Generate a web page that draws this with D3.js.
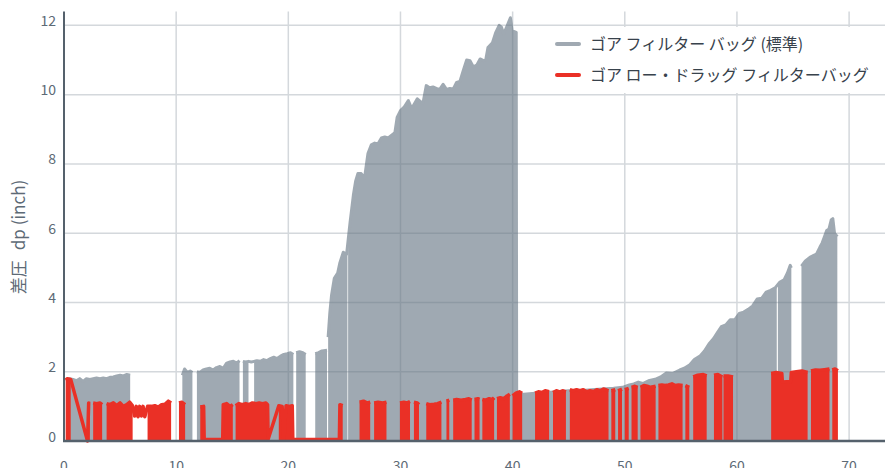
<!DOCTYPE html>
<html>
<head>
<meta charset="utf-8">
<script src="https://cdn.jsdelivr.net/npm/d3@7"></script>
<style>
  body { margin: 0; background: #fff; }
  svg { display: block; font-family: "Noto Sans CJK JP", "Noto Sans", sans-serif; }
</style>
</head>
<body>
<div id="chart"></div>
<script>
// tick values
const xTicks = [0, 10, 20, 30, 40, 50, 60, 70];
const yTicks = [0, 2, 4, 6, 8, 10, 12];
const seriesNames = ["ゴア フィルター バッグ (標準)", "ゴア ロー・ドラッグ フィルターバッグ"];
const yTitle = ["差圧", "dp (inch)"];

// standard bag: peak dp of each dense pulse run, null = no reading
const grayPts = [
  [0.25,1.72],[0.5,1.8],[0.8,1.78],[1.1,1.74],[1.4,1.8],[1.7,1.72],[2.0,1.8],[2.3,1.78],[2.6,1.8],[2.9,1.82],
  [3.2,1.8],[3.5,1.82],[3.8,1.8],[4.1,1.84],[4.4,1.85],[4.7,1.88],[5.0,1.9],[5.3,1.88],[5.6,1.92],[5.9,1.9],
  [6.0,null],
  [10.55,1.9],[10.75,2.08],[11.0,1.98],[11.25,2.02],[11.45,1.98],[11.6,null],[11.85,2.0],[12.1,1.98],[12.4,2.05],
  [12.7,2.08],[13.0,2.1],[13.3,2.05],[13.6,2.12],[13.9,2.15],[14.2,2.1],[14.5,2.25],[14.8,2.28],[15.1,2.3],
  [15.4,2.25],[15.65,2.32],[15.8,null],[15.95,2.3],[16.2,2.28],[16.45,2.3],[16.7,2.28],[16.95,2.3],[17.2,2.32],
  [17.5,2.3],[17.8,2.35],[18.1,2.32],[18.4,2.38],[18.7,2.42],[19.0,2.38],[19.3,2.45],[19.6,2.5],[19.9,2.52],
  [20.2,2.55],[20.45,2.5],[20.55,null],[20.7,2.55],[21.0,2.58],[21.3,2.55],[21.55,2.5],[21.9,null],
  [22.4,2.52],[22.7,2.55],[23.0,2.6],[23.45,2.62],[23.5,null],[23.55,3.0],[23.7,3.7],[23.85,4.2],[24.1,4.7],
  [24.4,4.85],[24.6,5.15],[24.9,5.45],[25.2,5.4],[25.5,6.3],[25.8,7.1],[26.0,7.5],[26.2,7.72],[26.5,7.72],
  [26.8,7.6],[27.1,8.3],[27.4,8.55],[27.7,8.6],[28.0,8.58],[28.3,8.75],[28.6,8.78],[28.9,8.75],[29.3,8.85],
  [29.5,8.9],[29.7,9.34],[30.0,9.54],[30.3,9.63],[30.7,9.83],[31.0,9.6],[31.5,9.88],[32.0,9.74],[32.3,10.26],
  [32.6,10.2],[32.9,10.22],[33.2,10.18],[33.5,10.15],[33.8,10.3],[34.1,10.15],[34.4,10.18],[34.7,10.16],
  [35.0,10.35],[35.3,10.38],[35.6,10.7],[35.9,11.0],[36.2,10.98],[36.5,10.8],[36.8,10.85],[37.1,11.03],
  [37.4,10.98],[37.6,11.0],[37.8,11.36],[38.2,11.5],[38.5,11.8],[38.8,12.0],[39.0,11.95],[39.2,11.75],
  [39.5,11.98],[39.8,12.22],[39.95,11.85],[40.32,11.8],[40.36,1.35],[41.0,1.35],[42.0,1.38],[43.0,1.4],
  [44.0,1.42],[45.0,1.45],[46.0,1.45],[47.0,1.48],[48.0,1.5],[49.0,1.52],[49.8,1.55],[50.4,1.62],[50.8,1.65],
  [51.2,1.7],[51.6,1.66],[52.2,1.75],[52.7,1.78],[53.2,1.85],[53.7,1.96],[54.3,1.95],[54.9,2.05],[55.3,2.1],
  [55.8,2.2],[56.2,2.35],[56.7,2.45],[57.1,2.6],[57.5,2.8],[57.9,2.95],[58.2,3.1],[58.6,3.3],[59.0,3.35],
  [59.4,3.5],[59.8,3.5],[60.2,3.68],[60.6,3.72],[61.0,3.8],[61.4,3.9],[61.8,4.1],[62.2,4.12],[62.6,4.3],
  [63.0,4.35],[63.4,4.42],[63.8,4.58],[64.2,4.65],[64.5,4.85],[64.75,5.07],[64.85,5.0],[65.2,null],
  [65.75,5.05],[66.1,5.2],[66.5,5.3],[66.8,5.35],[67.1,5.4],[67.4,5.6],[67.6,5.72],[67.8,5.9],[68.0,6.08],
  [68.2,6.12],[68.4,6.38],[68.55,6.42],[68.7,6.0],[68.95,5.9]
];
// spans where the standard bag trace is a single line (no pulses underneath)
const grayLineOnly = [[16.45, 16.95], [25.27, 25.33], [63.55, 63.65]];

// low-drag bag
const redPts = [
  [0.15,1.76],[0.3,1.8],[0.6,1.78],[2.1,0],[2.2,1.1],[2.3,1.08],[2.35,null],[2.6,1.1],[2.9,1.08],[3.2,1.1],
  [3.4,1.05],[3.45,null],[3.8,1.08],[4.1,1.05],[4.4,1.1],[4.7,1.02],[5.0,1.1],[5.3,1.0],[5.6,1.05],[5.85,1.12],
  [6.1,1.02],[6.3,0.72],[6.45,1.0],[6.6,0.7],[6.75,1.0],[6.9,0.72],[7.05,1.0],[7.2,0.7],[7.45,1.0],[7.8,1.0],
  [8.1,1.02],[8.4,0.98],[8.7,1.05],[9.0,1.06],[9.3,1.15],[9.55,1.1],[9.9,null],
  [10.25,1.1],[10.5,1.12],[10.8,1.05],[11.5,null],
  [12.15,0.98],[12.45,1.0],[12.5,0.04],[14.15,0.04],[14.2,1.05],[14.5,1.08],[14.8,1.0],[15.05,1.05],[15.1,null],
  [15.3,1.02],[15.6,1.08],[15.9,1.05],[16.2,1.08],[16.5,1.05],[16.8,1.1],[17.1,1.08],[17.4,1.1],[17.7,1.08],
  [18.0,1.1],[18.15,1.05],[18.2,0.05],[19.15,1.02],[19.45,1.0],[19.6,0.02],[19.8,1.02],[20.1,1.0],[20.35,1.02],
  [20.4,0.04],[24.55,0.04],[24.6,1.05],[24.85,1.02],[25.5,null],
  [26.35,1.12],[26.7,1.15],[27.0,1.1],[27.3,1.12],[27.45,null],[27.65,1.1],[28.0,1.12],[28.4,1.1],[28.75,1.12],
  [29.3,null],
  [29.95,1.1],[30.3,1.12],[30.6,1.1],[30.85,1.14],[30.9,null],[31.2,1.12],[31.5,1.1],[31.65,1.05],[31.7,null],
  [32.3,1.08],[32.6,1.05],[33.0,1.06],[33.3,1.08],[33.65,1.12],[33.7,null],[34.1,1.15],[34.35,1.18],[34.4,null],
  [34.7,1.18],[35.0,1.2],[35.4,1.18],[35.8,1.2],[36.1,1.22],[36.35,1.18],[36.4,null],[36.6,1.2],[36.9,1.22],
  [37.05,1.2],[37.1,null],[37.3,1.2],[37.6,1.18],[37.9,1.22],[38.2,1.2],[38.35,1.25],[38.4,null],[38.6,1.22],
  [38.9,1.25],[39.2,1.22],[39.5,1.3],[39.75,1.35],[39.8,null],[40.0,1.3],[40.3,1.38],[40.6,1.42],[40.85,1.38],
  [40.9,null],[42.0,1.38],[42.3,1.42],[42.6,1.4],[42.9,1.45],[43.25,1.42],[43.3,null],[43.6,1.4],[43.9,1.45],
  [44.2,1.42],[44.5,1.45],[44.75,1.42],[44.8,null],[45.1,1.48],[45.4,1.45],[45.7,1.48],[46.0,1.45],[46.3,1.48],
  [46.6,1.42],[46.9,1.45],[47.2,1.43],[47.5,1.48],[47.8,1.45],[48.1,1.5],[48.3,1.48],[48.55,1.45],[48.6,null],
  [48.8,1.45],[49.15,1.48],[49.2,null],[49.4,1.45],[49.75,1.5],[49.8,null],[50.0,1.48],[50.35,1.52],[50.4,null],
  [50.6,1.55],[50.9,1.58],[51.15,1.55],[51.2,null],[51.4,1.55],[51.7,1.6],[52.0,1.58],[52.3,1.55],[52.75,1.58],
  [52.8,null],[53.0,1.6],[53.3,1.62],[53.6,1.6],[53.9,1.62],[54.2,1.65],[54.5,1.6],[54.8,1.62],[55.15,1.6],
  [55.2,null],[55.4,1.6],[55.75,1.55],[55.8,null],
  [56.1,1.85],[56.5,1.9],[57.0,1.92],[57.3,1.88],[57.6,null],[57.95,1.9],[58.3,1.92],[58.7,1.85],[58.75,null],
  [58.8,1.88],[59.2,1.88],[59.65,1.85],[61.0,null],
  [63.05,1.95],[63.5,1.98],[64.0,1.95],[64.05,1.7],[64.8,1.72],[64.85,1.98],[65.3,2.0],[65.8,2.02],[66.3,1.98],
  [66.45,null],[66.6,2.02],[67.0,2.05],[67.4,2.04],[67.8,2.06],[68.25,2.08],[68.35,null],[68.5,2.05],
  [68.75,2.08],[69.0,2.03]
];
// spans where the low-drag trace is a single connecting line
const redLineOnly = [[0.6, 2.15], [6.12, 7.45], [12.5, 14.15], [18.2, 19.15], [20.4, 24.55]];

const width = 885, height = 468;
const plotLeft = 64, plotRight = 885, plotTop = 11.5, plotBottom = 441;

const x = d3.scaleLinear().domain([0, 73.2]).range([plotLeft, plotRight]);
const y = d3.scaleLinear().domain([0, 12.4]).range([plotBottom, plotTop]);

const svg = d3.select("#chart").append("svg")
  .attr("width", width)
  .attr("height", height);
const defs = svg.append("defs");

// grid
svg.append("g").selectAll("line").data(yTicks.slice(1)).join("line")
  .attr("x1", plotLeft).attr("x2", plotRight)
  .attr("y1", d => y(d)).attr("y2", d => y(d))
  .attr("stroke", "#d4d8dc").attr("stroke-width", 1.5);
svg.append("g").selectAll("line").data(xTicks.slice(1)).join("line")
  .attr("x1", d => x(d)).attr("x2", d => x(d))
  .attr("y1", plotTop).attr("y2", plotBottom)
  .attr("stroke", "#d4d8dc").attr("stroke-width", 1.5);

function drawSeries(pts, lineOnly, id, color, sw, opacity) {
  // mask out the line-only spans from the filled part
  const mask = defs.append("mask").attr("id", id)
    .attr("maskUnits", "userSpaceOnUse")
    .attr("x", 0).attr("y", 0).attr("width", width).attr("height", height);
  mask.append("rect").attr("x", 0).attr("y", 0).attr("width", width).attr("height", height).attr("fill", "white");
  mask.selectAll("rect.lo").data(lineOnly).join("rect")
    .attr("class", "lo")
    .attr("x", d => x(d[0])).attr("width", d => x(d[1]) - x(d[0]))
    .attr("y", 0).attr("height", height)
    .attr("fill", "black");

  const defined = d => d[1] !== null;
  const g = svg.append("g").attr("opacity", opacity);
  g.append("path").datum(pts)
    .attr("mask", `url(#${id})`)
    .attr("fill", color)
    .attr("d", d3.area().defined(defined).x(d => x(d[0])).y0(y(0)).y1(d => y(d[1])));
  g.append("path").datum(pts)
    .attr("fill", "none")
    .attr("stroke", color)
    .attr("stroke-width", sw)
    .attr("stroke-linejoin", "round")
    .attr("d", d3.line().defined(defined).x(d => x(d[0])).y(d => y(d[1])));
}

drawSeries(grayPts, grayLineOnly, "grayMask", "rgb(97,113,127)", 3, 0.6);
drawSeries(redPts, redLineOnly, "redMask", "#ea3026", 3.5, 1);

// axes lines
svg.append("line")
  .attr("x1", plotLeft).attr("x2", plotLeft).attr("y1", plotTop).attr("y2", plotBottom + 1)
  .attr("stroke", "#55616c").attr("stroke-width", 2);
svg.append("line")
  .attr("x1", plotLeft - 1).attr("x2", plotRight).attr("y1", plotBottom).attr("y2", plotBottom)
  .attr("stroke", "#55616c").attr("stroke-width", 2.5);

// tick labels
svg.append("g").selectAll("text").data(yTicks).join("text")
  .attr("x", plotLeft - 8).attr("y", d => y(d) + 0.5)
  .attr("text-anchor", "end")
  .attr("font-size", 14).attr("fill", "#5d6a76")
  .text(d => d);
svg.append("g").selectAll("text").data(xTicks).join("text")
  .attr("x", d => x(d)).attr("y", 471)
  .attr("text-anchor", "middle")
  .attr("font-size", 14).attr("fill", "#5d6a76")
  .text(d => d);

// y title
const title = svg.append("text")
  .attr("transform", "translate(25,237) rotate(-90)")
  .attr("text-anchor", "middle")
  .attr("font-size", 17).attr("fill", "#5d6a76");
title.append("tspan").text(yTitle[0]);
title.append("tspan").attr("dx", 10).text(yTitle[1]);

// legend
const legend = svg.append("g");
legend.append("rect")
  .attr("x", 547).attr("y", 27).attr("width", plotRight - 547).attr("height", 66)
  .attr("fill", "#fff");
const legendColors = ["#a0a9b2", "#ea3026"];
const items = legend.selectAll("g.item").data(seriesNames).join("g")
  .attr("class", "item")
  .attr("transform", (d, i) => `translate(0,${44 + i * 31})`);
items.append("line")
  .attr("x1", 557).attr("x2", 579)
  .attr("stroke", (d, i) => legendColors[i])
  .attr("stroke-width", 4).attr("stroke-linecap", "round");
items.append("text")
  .attr("x", 590).attr("y", 6)
  .attr("font-size", 16).attr("fill", "#38424c")
  .style("white-space", "pre")
  .text(d => d);
</script>
</body>
</html>
